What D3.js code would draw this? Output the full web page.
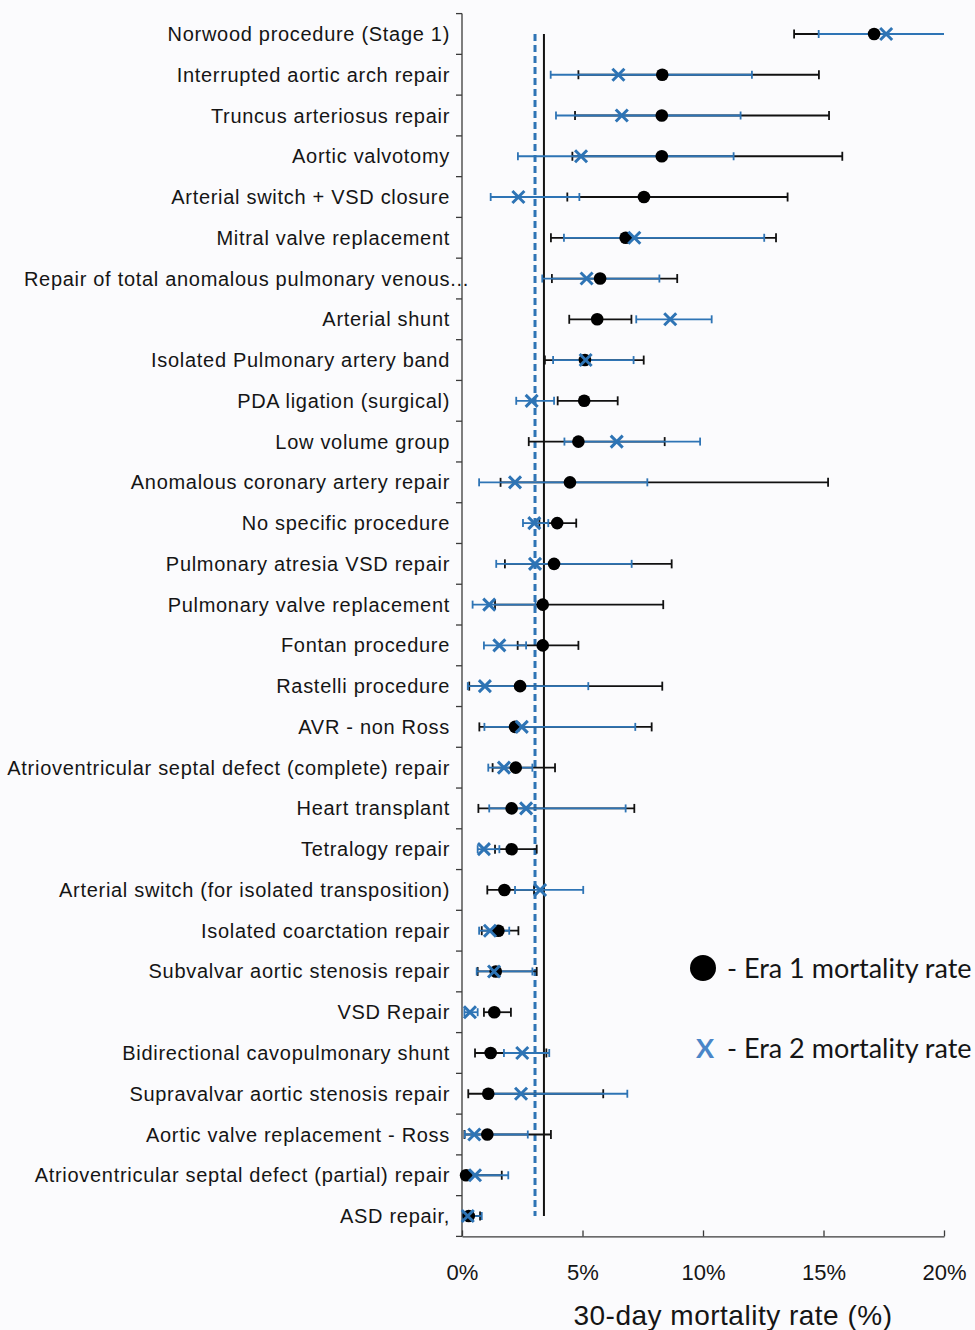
<!DOCTYPE html>
<html>
<head>
<meta charset="utf-8">
<script src="https://cdn.jsdelivr.net/npm/d3@7"></script>
<style>
  html, body { margin: 0; padding: 0; background: #fbfbfd; }
  svg { display: block; }
</style>
</head>
<body>
<svg id="chart" width="975" height="1330"></svg>
<script>
// ---------- DATA ----------
const categories = [
  "Norwood procedure (Stage 1)",
  "Interrupted aortic arch repair",
  "Truncus arteriosus repair",
  "Aortic valvotomy",
  "Arterial switch + VSD closure",
  "Mitral valve replacement",
  "Repair of total anomalous pulmonary venous...",
  "Arterial shunt",
  "Isolated Pulmonary artery band",
  "PDA ligation (surgical)",
  "Low volume group",
  "Anomalous coronary artery repair",
  "No specific procedure",
  "Pulmonary atresia VSD repair",
  "Pulmonary valve replacement",
  "Fontan procedure",
  "Rastelli procedure",
  "AVR - non Ross",
  "Atrioventricular septal defect (complete) repair",
  "Heart transplant",
  "Tetralogy repair",
  "Arterial switch (for isolated transposition)",
  "Isolated coarctation repair",
  "Subvalvar aortic stenosis repair",
  "VSD Repair",
  "Bidirectional cavopulmonary shunt",
  "Supravalvar aortic stenosis repair",
  "Aortic valve replacement - Ross",
  "Atrioventricular septal defect (partial) repair",
  "ASD repair,"
];
const era1Rate = [17.1, 8.31, 8.29, 8.29, 7.55, 6.79, 5.73, 5.61, 5.10, 5.07, 4.83, 4.48, 3.95, 3.82, 3.35, 3.35, 2.41, 2.20, 2.23, 2.06, 2.06, 1.76, 1.51, 1.40, 1.34, 1.19, 1.09, 1.05, 0.17, 0.28];
const era1Low  = [13.78, 4.83, 4.69, 4.58, 4.37, 3.69, 3.73, 4.45, 3.44, 3.97, 2.77, 1.60, 3.21, 1.78, 1.37, 2.31, 0.30, 0.72, 1.27, 0.68, 1.37, 1.05, 0.82, 0.65, 0.91, 0.54, 0.26, 0.10, 0.02, 0.05];
const era1High = [22.0, 14.81, 15.23, 15.78, 13.51, 13.03, 8.93, 7.03, 7.54, 6.46, 8.41, 15.19, 4.74, 8.70, 8.35, 4.83, 8.31, 7.87, 3.86, 7.15, 3.10, 2.99, 2.34, 3.10, 2.03, 3.50, 5.86, 3.69, 1.65, 0.75];
const era2Rate = [17.6, 6.49, 6.63, 4.94, 2.34, 7.15, 5.17, 8.64, 5.13, 2.89, 6.42, 2.20, 3.00, 3.03, 1.13, 1.55, 0.95, 2.48, 1.74, 2.66, 0.91, 3.24, 1.16, 1.33, 0.33, 2.50, 2.45, 0.51, 0.54, 0.24];
const era2Low  = [14.8, 3.68, 3.90, 2.32, 1.19, 4.23, 3.33, 7.23, 3.78, 2.25, 4.25, 0.71, 2.53, 1.42, 0.44, 0.91, 0.24, 0.93, 1.09, 1.13, 0.65, 2.20, 0.71, 0.61, 0.10, 1.74, 1.15, 0.12, 0.10, 0.05];
const era2High = [24.5, 12.03, 11.56, 11.27, 4.87, 12.54, 8.19, 10.36, 7.12, 3.82, 9.88, 7.69, 3.58, 7.04, 3.05, 2.66, 5.24, 7.19, 2.92, 6.79, 1.55, 5.03, 1.96, 2.92, 0.65, 3.62, 6.86, 2.73, 1.92, 0.82];
const era1Overall = 3.40;
const era2Overall = 3.03;
const xTicks = [0, 5, 10, 15, 20];
const xTitle = "30-day mortality rate (%)";
const legendLabels = ["- Era 1 mortality rate", "- Era 2 mortality rate"];

// ---------- LAYOUT ----------
const BLACK = "#111111";
const BLUE = "#2e74b5";
const svg = d3.select("#chart");

const x = d3.scaleLinear().domain([0, 20]).range([462, 944]);
const y = d3.scaleBand().domain(categories).range([13.6, 1236.4]).padding(0);
const yc = c => y(c) + y.bandwidth() / 2;

const rows = categories.map((c, i) => ({
  c, r1: era1Rate[i], l1: era1Low[i], h1: era1High[i],
  r2: era2Rate[i], l2: era2Low[i], h2: era2High[i]
}));

svg.append("defs").append("clipPath").attr("id", "plotclip")
  .append("rect").attr("x", x(0) - 10).attr("y", 0)
  .attr("width", x(20) - x(0) + 10).attr("height", 1330);

// Left axis spine + boundary ticks
const axisCol = "#3a3a3a";
svg.append("line").attr("x1", x(0)).attr("x2", x(0))
  .attr("y1", y.range()[0]).attr("y2", y.range()[1])
  .attr("stroke", axisCol).attr("stroke-width", 1.3);
const boundaries = categories.map(c => y(c)).concat([y.range()[1]]);
svg.append("g").selectAll("line").data(boundaries).join("line")
  .attr("x1", x(0) - 6).attr("x2", x(0))
  .attr("y1", d => d).attr("y2", d => d)
  .attr("stroke", axisCol).attr("stroke-width", 1.3);

// Category labels
svg.append("g").selectAll("text").data(categories).join("text")
  .attr("x", d => d.endsWith("...") ? x(0) + 7 : x(0) - 12)
  .attr("y", d => yc(d))
  .attr("dy", "0.35em")
  .attr("text-anchor", "end")
  .attr("font-family", "Liberation Sans, Arial, sans-serif")
  .attr("font-size", 20)
  .attr("letter-spacing", 0.7)
  .attr("fill", "#151515")
  .text(d => d);

// Bottom axis
const xAxis = d3.axisBottom(x).tickValues(xTicks).tickFormat(d => d + "%")
  .tickSize(-6).tickPadding(28).tickSizeOuter(0);
const gx = svg.append("g").attr("transform", `translate(0,${y.range()[1]})`).call(xAxis);
gx.select(".domain").attr("stroke", axisCol).attr("stroke-width", 1.3);
gx.selectAll(".tick line").attr("stroke", axisCol).attr("stroke-width", 1.3);
gx.selectAll(".tick text").attr("font-family", "Liberation Sans, Arial, sans-serif")
  .attr("font-size", 22).attr("fill", "#151515");

svg.append("text").attr("x", 733).attr("y", 1315).attr("dy", "0.35em")
  .attr("text-anchor", "middle")
  .attr("font-family", "Liberation Sans, Arial, sans-serif")
  .attr("font-size", 28).attr("letter-spacing", 0.5).attr("fill", "#151515")
  .text(xTitle);

// Overall reference lines
const yTop = yc(categories[0]), yBot = yc(categories[categories.length - 1]);
svg.append("line").attr("x1", x(era1Overall)).attr("x2", x(era1Overall))
  .attr("y1", yTop).attr("y2", yBot)
  .attr("stroke", BLACK).attr("stroke-width", 2);
svg.append("line").attr("x1", x(era2Overall)).attr("x2", x(era2Overall))
  .attr("y1", yTop).attr("y2", yBot)
  .attr("stroke", BLUE).attr("stroke-width", 3).attr("stroke-dasharray", "7,4");

const plot = svg.append("g").attr("clip-path", "url(#plotclip)");

function errorBars(key, color, capH, width) {
  const g = plot.append("g");
  g.selectAll("line.bar").data(rows).join("line").attr("class", "bar")
    .attr("x1", d => x(d["l" + key])).attr("x2", d => x(d["h" + key]))
    .attr("y1", d => yc(d.c)).attr("y2", d => yc(d.c))
    .attr("stroke", color).attr("stroke-width", width);
  ["l", "h"].forEach(k => {
    g.selectAll("line.cap" + k).data(rows.filter(d => d[k + key] <= 20)).join("line")
      .attr("class", "cap" + k)
      .attr("x1", d => x(d[k + key])).attr("x2", d => x(d[k + key]))
      .attr("y1", d => yc(d.c) - capH).attr("y2", d => yc(d.c) + capH)
      .attr("stroke", color).attr("stroke-width", width);
  });
}
errorBars("1", BLACK, 4.5, 1.8);
errorBars("2", BLUE, 4, 1.8);

// Era 1 dots
plot.append("g").selectAll("circle").data(rows).join("circle")
  .attr("cx", d => x(d.r1)).attr("cy", d => yc(d.c)).attr("r", 6.3)
  .attr("fill", "#000");

// Era 2 crosses
const s = 6;
plot.append("g").selectAll("path").data(rows).join("path")
  .attr("d", d => {
    const cx = x(d.r2), cy = yc(d.c);
    return `M${cx - s},${cy - s}L${cx + s},${cy + s}M${cx - s},${cy + s}L${cx + s},${cy - s}`;
  })
  .attr("stroke", BLUE).attr("stroke-width", 3).attr("fill", "none");

// Legend
svg.append("circle").attr("cx", 703).attr("cy", 968).attr("r", 13).attr("fill", "#000");
svg.append("text").attr("x", 705).attr("y", 1048).attr("dy", "0.36em")
  .attr("text-anchor", "middle")
  .attr("font-family", "Lato, 'Open Sans', sans-serif").attr("font-weight", "bold")
  .attr("font-size", 27).attr("fill", "#4a86c8").text("X");
svg.append("g").selectAll("text").data(legendLabels).join("text")
  .attr("x", 727).attr("y", (d, i) => i === 0 ? 968 : 1048).attr("dy", "0.36em")
  .attr("font-family", "Lato, 'Open Sans', sans-serif")
  .attr("font-size", 27).attr("fill", "#151515")
  .text(d => d);
</script>
</body>
</html>
